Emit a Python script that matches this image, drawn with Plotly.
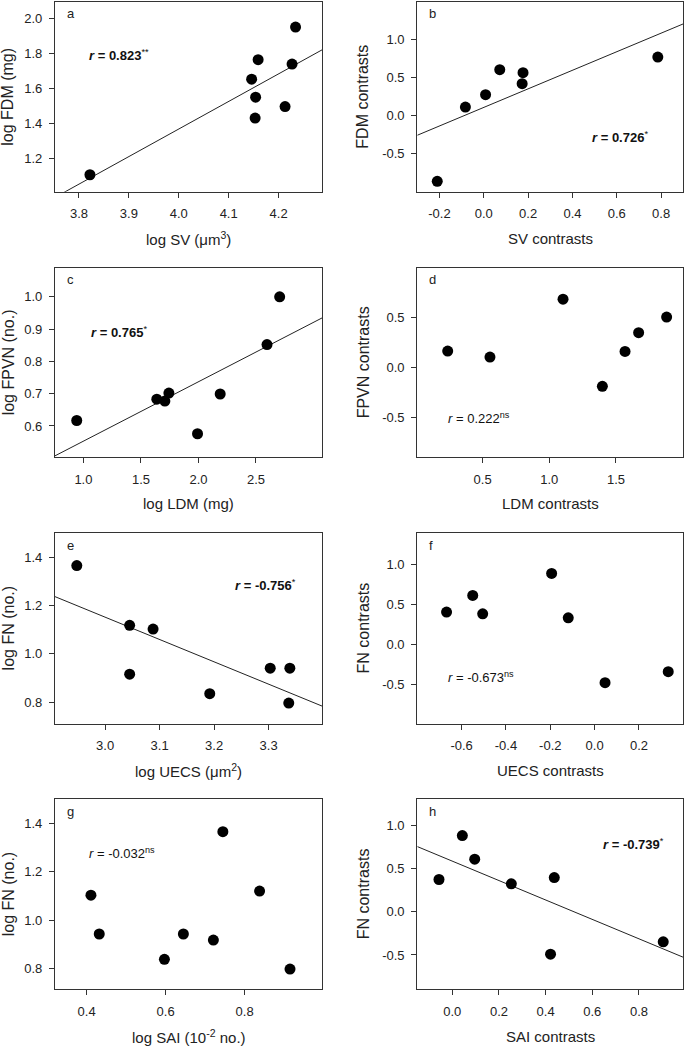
import plotly.graph_objects as go
import numpy as np

W, H = 685, 1046

# ---------------- data ----------------
# a: log SV vs log FDM
sv_log = [3.822, 4.146, 4.159, 4.154, 4.153, 4.213, 4.227, 4.234]
fdm_log = [1.107, 1.654, 1.765, 1.551, 1.431, 1.497, 1.740, 1.952]
# b: SV contrasts vs FDM contrasts
sv_con = [-0.210, -0.083, 0.008, 0.072, 0.173, 0.177, 0.785]
fdm_con = [-0.864, 0.114, 0.276, 0.605, 0.421, 0.566, 0.772]
# c: log LDM vs log FPVN
ldm_log = [0.942, 1.638, 1.708, 1.743, 1.992, 2.189, 2.596, 2.706]
fpvn_log = [0.617, 0.683, 0.677, 0.702, 0.576, 0.699, 0.852, 1.000]
# d: LDM contrasts vs FPVN contrasts
ldm_con = [0.238, 0.555, 1.103, 1.398, 1.568, 1.670, 1.880]
fpvn_con = [0.163, 0.103, 0.681, -0.189, 0.159, 0.346, 0.502]
# e: log UECS vs log FN
uecs_log = [2.948, 3.045, 3.045, 3.088, 3.192, 3.303, 3.339, 3.337]
fn_log_e = [1.367, 1.119, 0.916, 1.103, 0.835, 0.941, 0.941, 0.796]
# f: UECS contrasts vs FN contrasts
uecs_con = [-0.668, -0.550, -0.505, -0.194, -0.119, 0.047, 0.332]
fn_con_f = [0.404, 0.613, 0.383, 0.888, 0.333, -0.479, -0.342]
# g: log SAI vs log FN
sai_log = [0.411, 0.432, 0.597, 0.645, 0.721, 0.745, 0.838, 0.915]
fn_log_g = [1.103, 0.942, 0.837, 0.942, 0.917, 1.366, 1.120, 0.797]
# h: SAI contrasts vs FN contrasts
sai_con = [-0.057, 0.043, 0.096, 0.253, 0.437, 0.421, 0.904]
fn_con_h = [0.375, 0.885, 0.611, 0.325, 0.398, -0.491, -0.348]

# tick values
ticks_a = ([3.8, 3.9, 4.0, 4.1, 4.2], [1.2, 1.4, 1.6, 1.8, 2.0])
ticks_b = ([-0.2, 0.0, 0.2, 0.4, 0.6, 0.8], [-0.5, 0.0, 0.5, 1.0])
ticks_c = ([1.0, 1.5, 2.0, 2.5], [0.6, 0.7, 0.8, 0.9, 1.0])
ticks_d = ([0.5, 1.0, 1.5], [-0.5, 0.0, 0.5])
ticks_e = ([3.0, 3.1, 3.2, 3.3], [0.8, 1.0, 1.2, 1.4])
ticks_f = ([-0.6, -0.4, -0.2, 0.0, 0.2], [-0.5, 0.0, 0.5, 1.0])
ticks_g = ([0.4, 0.6, 0.8], [0.8, 1.0, 1.2, 1.4])
ticks_h = ([0.0, 0.2, 0.4, 0.6, 0.8], [-0.5, 0.0, 0.5, 1.0])

# ---------------- layout geometry ----------------
col_x = [(55.0, 322.0), (417.3, 683.3)]
row_y = [(1.7, 191.7), (267.7, 457.0), (533.3, 723.5), (799.3, 989.3)]

panels = [
    dict(letter="a", x=sv_log, y=fdm_log, ticks=ticks_a, xr=[3.752, 4.287], yr=[1.01, 2.097],
         fit=True, xt="log SV (μm<sup>3</sup>)", yt="log FDM (mg)",
         rtext="<b><i>r</i> = 0.823</b><sup>**</sup>", rpos=(87, 55)),
    dict(letter="b", x=sv_con, y=fdm_con, ticks=ticks_b, xr=[-0.3, 0.9], yr=[-1.0, 1.5],
         fit=True, xt="SV contrasts", yt="FDM contrasts",
         rtext="<b><i>r</i> = 0.726</b><sup>*</sup>", rpos=(590, 137)),
    dict(letter="c", x=ldm_log, y=fpvn_log, ticks=ticks_c, xr=[0.753, 3.074], yr=[0.504, 1.09],
         fit=True, xt="log LDM (mg)", yt="log FPVN (no.)",
         rtext="<b><i>r</i> = 0.765</b><sup>*</sup>", rpos=(89, 332)),
    dict(letter="d", x=ldm_con, y=fpvn_con, ticks=ticks_d, xr=[0.01, 2.005], yr=[-0.895, 0.995],
         fit=False, xt="LDM contrasts", yt="FPVN contrasts",
         rtext="<i>r</i> = 0.222<sup>ns</sup>", rpos=(446, 418)),
    dict(letter="e", x=uecs_log, y=fn_log_e, ticks=ticks_e, xr=[2.908, 3.398], yr=[0.711, 1.501],
         fit=True, xt="log UECS (μm<sup>2</sup>)", yt="log FN (no.)",
         rtext="<b><i>r</i> = -0.756</b><sup>*</sup>", rpos=(233, 585)),
    dict(letter="f", x=uecs_con, y=fn_con_f, ticks=ticks_f, xr=[-0.8, 0.4], yr=[-0.99, 1.39],
         fit=False, xt="UECS contrasts", yt="FN contrasts",
         rtext="<i>r</i> = -0.673<sup>ns</sup>", rpos=(446, 677)),
    dict(letter="g", x=sai_log, y=fn_log_g, ticks=ticks_g, xr=[0.32, 0.996], yr=[0.713, 1.5],
         fit=False, xt="log SAI (10<sup>-2</sup> no.)", yt="log FN (no.)",
         rtext="<i>r</i> = -0.032<sup>ns</sup>", rpos=(87, 853)),
    dict(letter="h", x=sai_con, y=fn_con_h, ticks=ticks_h, xr=[-0.15, 0.99], yr=[-0.898, 1.305],
         fit=True, xt="SAI contrasts", yt="FN contrasts",
         rtext="<b><i>r</i> = -0.739</b><sup>*</sup>", rpos=(601, 844)),
]

FONT = "Liberation Sans, Arial, sans-serif"
LINE = "#333333"

def px(xpx):
    return xpx / W

def py(ypx):
    return 1 - ypx / H

def fmt(vals):
    # hyphen-minus labels as in the reference
    return ["%.1f" % v if abs(v) > 1e-9 else "0.0" for v in vals]

fig = go.Figure()
layout = {}
annotations = []

for i, p in enumerate(panels):
    r, c = divmod(i, 2)
    n = "" if i == 0 else str(i + 1)
    xa, ya = "x" + n, "y" + n
    x0, x1 = col_x[c]
    y0, y1 = row_y[r]
    common = dict(showline=True, linecolor=LINE, linewidth=1.3, mirror=True,
                  ticks="outside", ticklen=5, tickwidth=1, tickcolor=LINE,
                  showgrid=False, zeroline=False,
                  tickfont=dict(family=FONT, size=13, color="#222222"))
    layout["xaxis" + n] = dict(domain=[px(x0), px(x1)], range=p["xr"], anchor=ya,
                               tickvals=p["ticks"][0], ticktext=fmt(p["ticks"][0]),
                               ticklabelstandoff=5, **common)
    layout["yaxis" + n] = dict(domain=[py(y1), py(y0)], range=p["yr"], anchor=xa,
                               tickvals=p["ticks"][1], ticktext=fmt(p["ticks"][1]),
                               ticklabelstandoff=4, **common)

    if p["fit"]:
        k, b0 = np.polyfit(np.array(p["x"]), np.array(p["y"]), 1)
        lx = np.array(p["xr"])
        fig.add_trace(go.Scatter(x=lx, y=k * lx + b0, mode="lines", xaxis=xa, yaxis=ya,
                                 line=dict(color="#222222", width=1), showlegend=False,
                                 hoverinfo="skip"))
    fig.add_trace(go.Scatter(x=p["x"], y=p["y"], mode="markers", xaxis=xa, yaxis=ya,
                             marker=dict(color="black", size=11), showlegend=False,
                             cliponaxis=False))

    # panel letter
    annotations.append(dict(text=p["letter"], x=px(x0 + 10), y=py(y0 + 12), xref="paper",
                            yref="paper", xanchor="left", yanchor="middle", showarrow=False,
                            font=dict(family=FONT, size=13, color="#222222")))
    # r text
    annotations.append(dict(text=p["rtext"], x=px(p["rpos"][0]), y=py(p["rpos"][1]),
                            xref="paper", yref="paper", xanchor="left", yanchor="middle",
                            showarrow=False, font=dict(family=FONT, size=13, color="#111111")))
    # x title
    annotations.append(dict(text=p["xt"], x=px((x0 + x1) / 2), y=py(y1 + 47), xref="paper",
                            yref="paper", xanchor="center", yanchor="middle", showarrow=False,
                            font=dict(family=FONT, size=15, color="#222222")))
    # y title
    ytx = 8 if c == 0 else 363
    annotations.append(dict(text=p["yt"], x=px(ytx), y=py((y0 + y1) / 2), xref="paper",
                            yref="paper", xanchor="center", yanchor="middle", showarrow=False,
                            textangle=-90,
                            font=dict(family=FONT, size=16, color="#222222")))

fig.update_layout(width=W, height=H, margin=dict(l=0, r=0, t=0, b=0),
                  paper_bgcolor="white", plot_bgcolor="white",
                  annotations=annotations, **layout)

fig.write_html("out.html",
               config={"displayModeBar": False},
               post_script="document.body.style.margin='0px';"
                           "document.body.style.overflow='hidden';")
